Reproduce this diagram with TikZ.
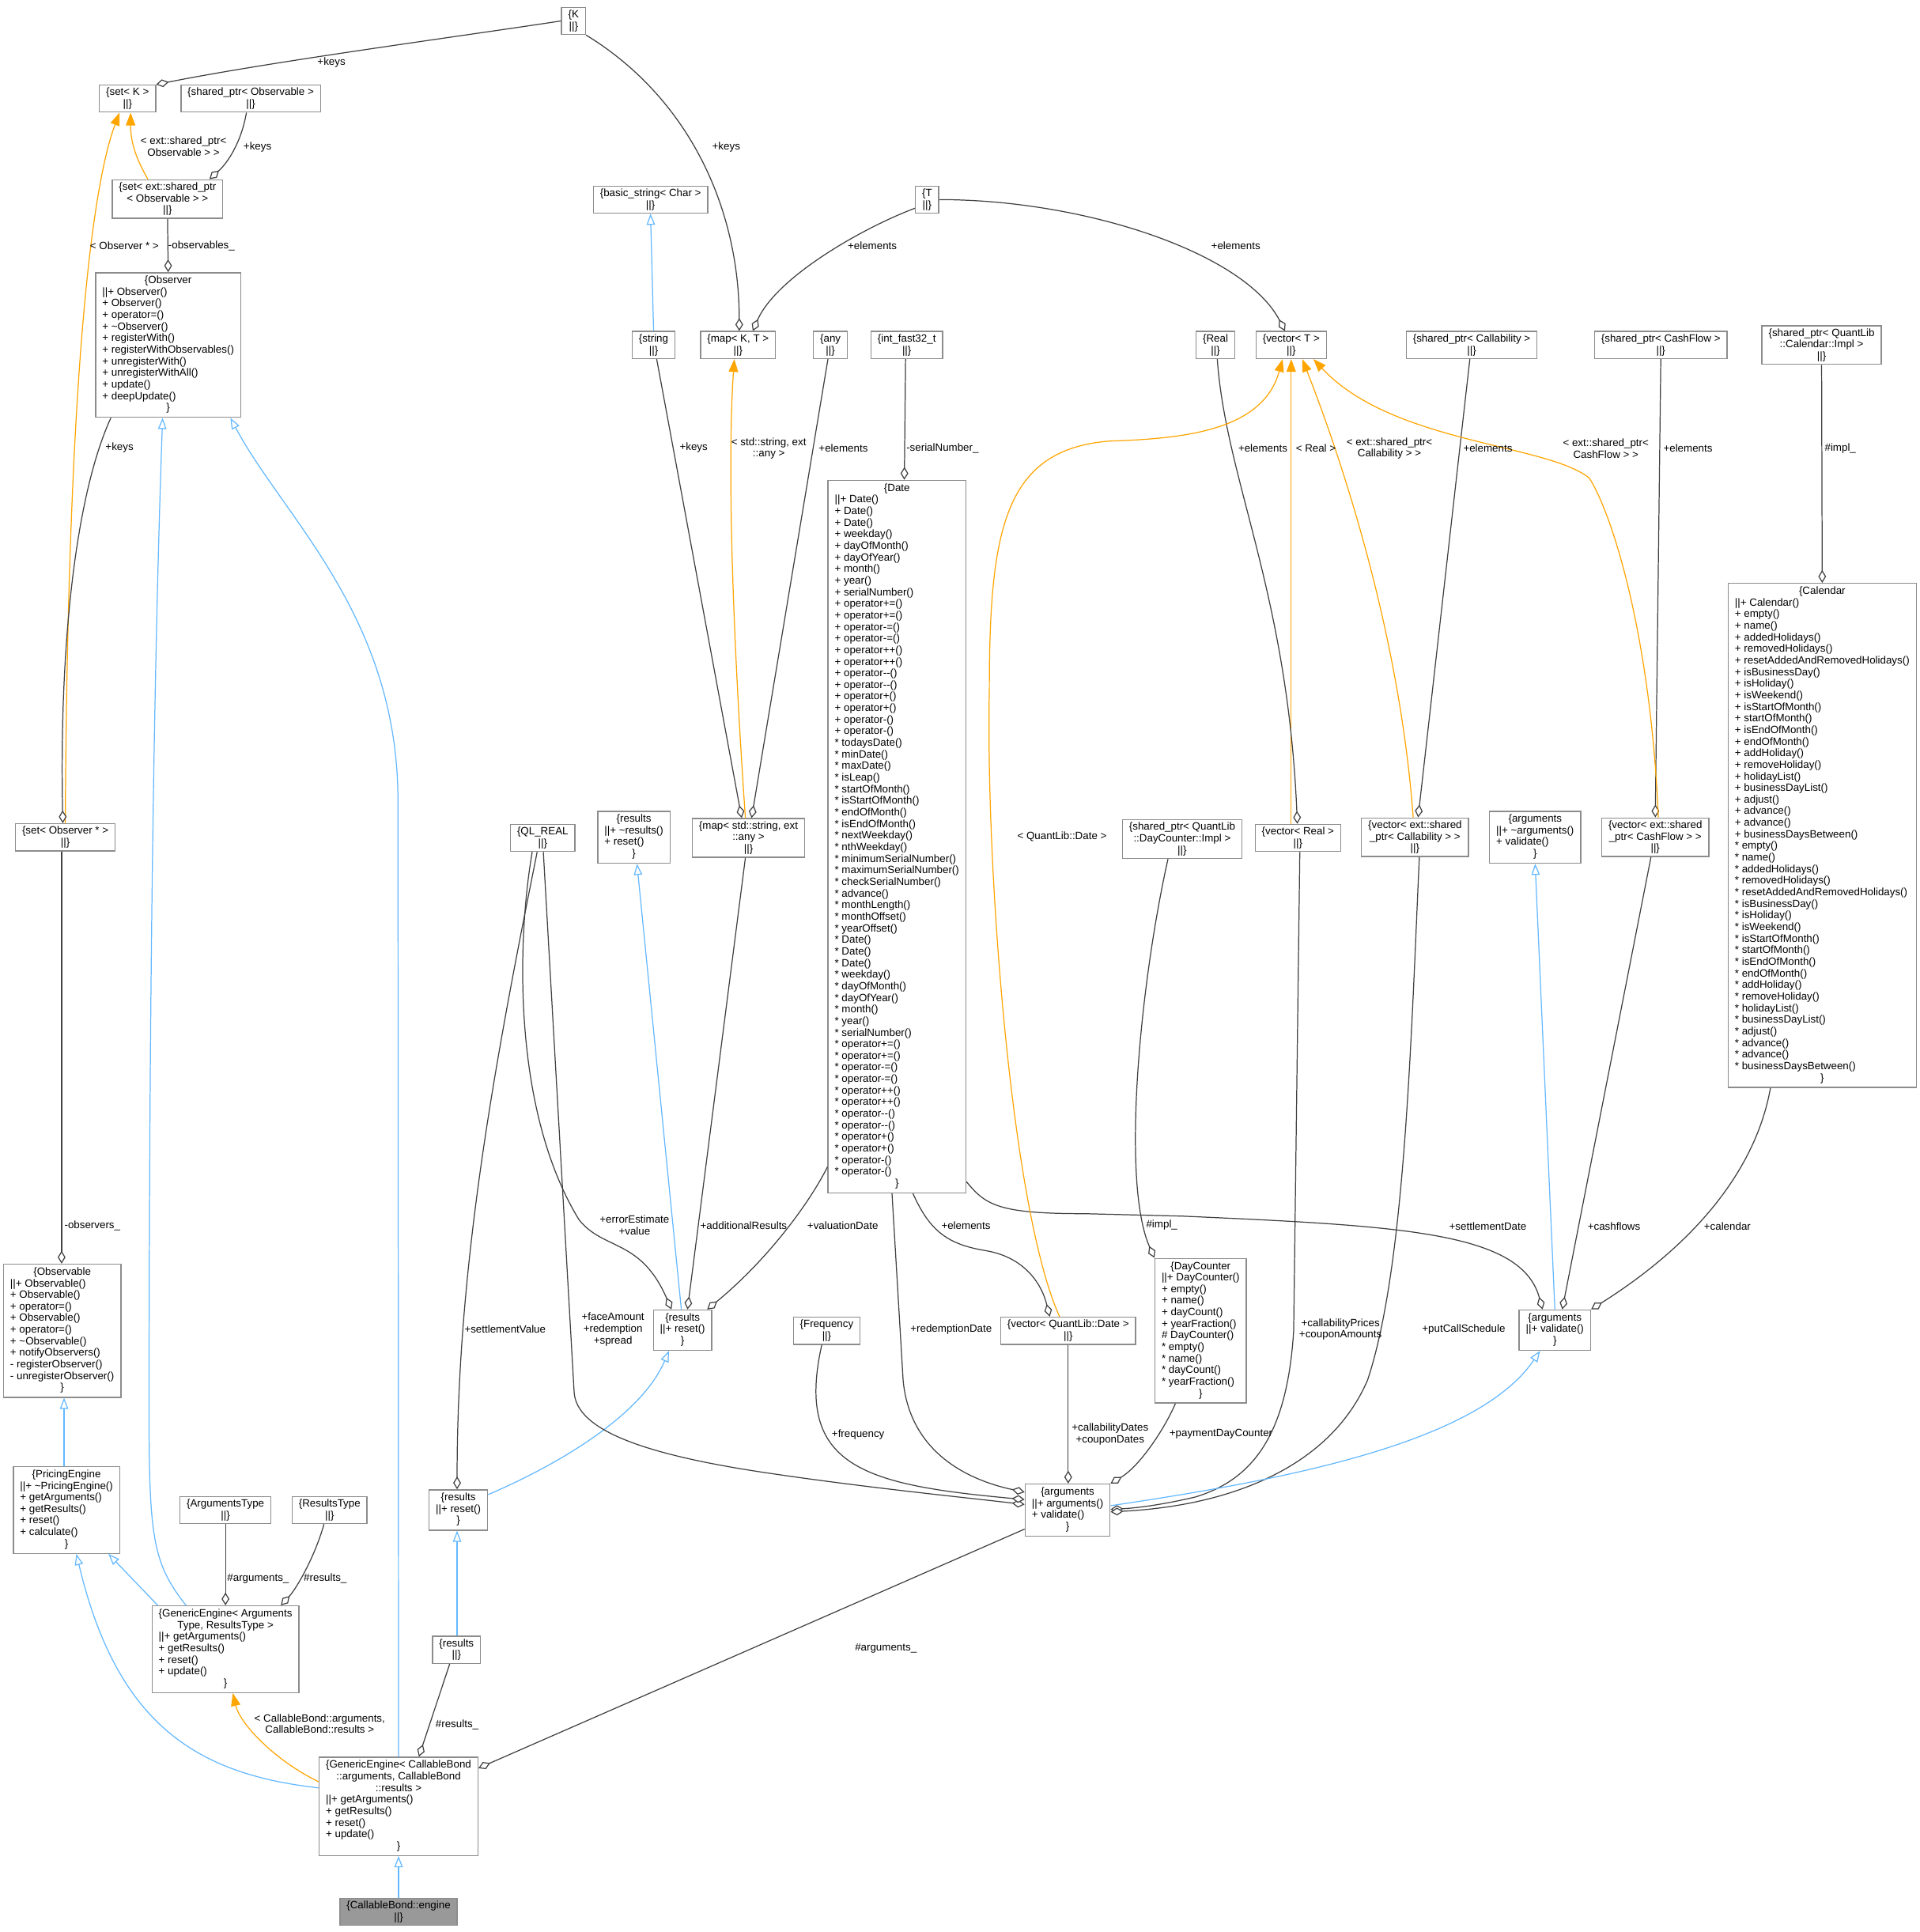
\documentclass[tikz,border=0pt]{standalone}
\usepackage{fontspec}
\setmainfont{Liberation Sans}
\usetikzlibrary{arrows.meta}
\definecolor{edgedark}{HTML}{404040}
\definecolor{nodeline}{HTML}{8C8C8C}
\definecolor{inhblue}{HTML}{63B8FF}
\definecolor{tplorange}{HTML}{FFA500}
\definecolor{engfill}{HTML}{999999}
\newcommand{\hd}[1]{\multicolumn{1}{@{}c@{}}{#1}}
\newcommand{\cls}[1]{\begin{tabular}{@{}l@{}}#1\end{tabular}}

\begin{document}
\begin{tikzpicture}[x=0.01558cm,y=-0.01558cm,
  font=\fontsize{3.8pt}{4.17pt}\selectfont,
  box/.style={draw=nodeline,line width=0.4pt,fill=white,inner xsep=2.4pt,inner ysep=1pt,align=center},
  lbl/.style={inner sep=0pt,align=center},
  agg/.style={draw=edgedark,line width=0.35pt,-{Diamond[fill=white,length=4.6pt,width=2.8pt]}},
  inh/.style={draw=inhblue,line width=0.35pt,-{Triangle[fill=white,length=4pt,width=3pt]}},
  tpl/.style={draw=tplorange,line width=0.35pt,-{Triangle[length=4.6pt,width=3.4pt]}}]
\fill[white] (0,0) rectangle (1558,1568);
\useasboundingbox (0,0) rectangle (1558,1568);

\node[box] (K) at (465.5,17) {\{K\\||\}};
\node[box] (setK) at (103.5,80) {\{set< K >\\||\}};
\node[box] (spObs) at (203.5,80) {\{shared\_ptr< Observable >\\||\}};
\node[box] (setSpObs) at (136,161.5) {\{set< ext::shared\_ptr\\< Observable > >\\||\}};
\node[box] (basicStr) at (528,162) {\{basic\_string< Char >\\||\}};
\node[box] (T) at (752.5,162) {\{T\\||\}};
\node[box] (Observer) at (136.5,280) {\cls{\hd{\{Observer}\\||+ Observer()\\+ Observer()\\+ operator=()\\+ \textasciitilde Observer()\\+ registerWith()\\+ registerWithObservables()\\+ unregisterWith()\\+ unregisterWithAll()\\+ update()\\+ deepUpdate()\\\hd{\}}}};

\node[box] (str) at (530.5,280) {\{string\\||\}};
\node[box] (mapKT) at (599,280) {\{map< K, T >\\||\}};
\node[box] (any) at (674,280) {\{any\\||\}};
\node[box] (intFast) at (736,280) {\{int\_fast32\_t\\||\}};
\node[box] (Real) at (986.5,280) {\{Real\\||\}};
\node[box] (vecT) at (1048,280) {\{vector< T >\\||\}};
\node[box] (spCallab) at (1194.5,280) {\{shared\_ptr< Callability >\\||\}};
\node[box] (spCash) at (1348,280) {\{shared\_ptr< CashFlow >\\||\}};
\node[box] (spCalImpl) at (1478.5,280) {\{shared\_ptr< QuantLib\\::Calendar::Impl >\\||\}};

\node[box] (Date) at (728,679) {\cls{\hd{\{Date}\\||+ Date()\\+ Date()\\+ Date()\\+ weekday()\\+ dayOfMonth()\\+ dayOfYear()\\+ month()\\+ year()\\+ serialNumber()\\+ operator+=()\\+ operator+=()\\+ operator-=()\\+ operator-=()\\+ operator++()\\+ operator++()\\+ operator-{}-()\\+ operator-{}-()\\+ operator+()\\+ operator+()\\+ operator-()\\+ operator-()\\{}* todaysDate()\\{}* minDate()\\{}* maxDate()\\{}* isLeap()\\{}* startOfMonth()\\{}* isStartOfMonth()\\{}* endOfMonth()\\{}* isEndOfMonth()\\{}* nextWeekday()\\{}* nthWeekday()\\{}* minimumSerialNumber()\\{}* maximumSerialNumber()\\{}* checkSerialNumber()\\{}* advance()\\{}* monthLength()\\{}* monthOffset()\\{}* yearOffset()\\{}* Date()\\{}* Date()\\{}* Date()\\{}* weekday()\\{}* dayOfMonth()\\{}* dayOfYear()\\{}* month()\\{}* year()\\{}* serialNumber()\\{}* operator+=()\\{}* operator+=()\\{}* operator-=()\\{}* operator-=()\\{}* operator++()\\{}* operator++()\\{}* operator-{}-()\\{}* operator-{}-()\\{}* operator+()\\{}* operator+()\\{}* operator-()\\{}* operator-()\\\hd{\}}}};

\node[box] (Calendar) at (1479,678) {\cls{\hd{\{Calendar}\\||+ Calendar()\\+ empty()\\+ name()\\+ addedHolidays()\\+ removedHolidays()\\+ resetAddedAndRemovedHolidays()\\+ isBusinessDay()\\+ isHoliday()\\+ isWeekend()\\+ isStartOfMonth()\\+ startOfMonth()\\+ isEndOfMonth()\\+ endOfMonth()\\+ addHoliday()\\+ removeHoliday()\\+ holidayList()\\+ businessDayList()\\+ adjust()\\+ advance()\\+ advance()\\+ businessDaysBetween()\\{}* empty()\\{}* name()\\{}* addedHolidays()\\{}* removedHolidays()\\{}* resetAddedAndRemovedHolidays()\\{}* isBusinessDay()\\{}* isHoliday()\\{}* isWeekend()\\{}* isStartOfMonth()\\{}* startOfMonth()\\{}* isEndOfMonth()\\{}* endOfMonth()\\{}* addHoliday()\\{}* removeHoliday()\\{}* holidayList()\\{}* businessDayList()\\{}* adjust()\\{}* advance()\\{}* advance()\\{}* businessDaysBetween()\\\hd{\}}}};

\node[box] (setObsPtr) at (53,679.5) {\{set< Observer * >\\||\}};
\node[box] (QLREAL) at (440.5,680) {\{QL\_REAL\\||\}};
\node[box] (resultsTop) at (514.5,679.5) {\cls{\hd{\{results}\\||+ \textasciitilde results()\\+ reset()\\\hd{\}}}};
\node[box] (mapStrAny) at (607.5,680) {\{map< std::string, ext\\::any >\\||\}};
\node[box] (spDCImpl) at (959.5,681) {\{shared\_ptr< QuantLib\\::DayCounter::Impl >\\||\}};
\node[box] (vecReal) at (1053.5,680) {\{vector< Real >\\||\}};
\node[box] (vecSpCallab) at (1148.5,679.5) {\{vector< ext::shared\\\_ptr< Callability > >\\||\}};
\node[box] (argsTop) at (1246,679.5) {\cls{\hd{\{arguments}\\||+ \textasciitilde arguments()\\+ validate()\\\hd{\}}}};
\node[box] (vecSpCash) at (1343.5,679.5) {\{vector< ext::shared\\\_ptr< CashFlow > >\\||\}};

\node[box] (Observable) at (50.5,1080) {\cls{\hd{\{Observable}\\||+ Observable()\\+ Observable()\\+ operator=()\\+ Observable()\\+ operator=()\\+ \textasciitilde Observable()\\+ notifyObservers()\\- registerObserver()\\- unregisterObserver()\\\hd{\}}}};
\node[box] (resultsMid) at (554,1079.5) {\cls{\hd{\{results}\\||+ reset()\\\hd{\}}}};
\node[box] (Frequency) at (671,1080) {\{Frequency\\||\}};
\node[box] (vecQLDate) at (867,1080) {\{vector< QuantLib::Date >\\||\}};
\node[box] (DayCounter) at (974.5,1080) {\cls{\hd{\{DayCounter}\\||+ DayCounter()\\+ empty()\\+ name()\\+ dayCount()\\+ yearFraction()\\\# DayCounter()\\{}* empty()\\{}* name()\\{}* dayCount()\\{}* yearFraction()\\\hd{\}}}};
\node[box] (argsRight) at (1262,1079.5) {\cls{\hd{\{arguments}\\||+ validate()\\\hd{\}}}};

\node[box] (PricingEngine) at (54,1225.5) {\cls{\hd{\{PricingEngine}\\||+ \textasciitilde PricingEngine()\\+ getArguments()\\+ getResults()\\+ reset()\\+ calculate()\\\hd{\}}}};
\node[box] (ArgsType) at (183,1225.5) {\{ArgumentsType\\||\}};
\node[box] (ResType) at (267.5,1225.5) {\{ResultsType\\||\}};
\node[box] (resultsLeft) at (372,1225.5) {\cls{\hd{\{results}\\||+ reset()\\\hd{\}}}};
\node[box] (argsMain) at (866.5,1225.5) {\cls{\hd{\{arguments}\\||+ arguments()\\+ validate()\\\hd{\}}}};

\node[box] (GenEngAT) at (183,1338.5) {\cls{\hd{\{GenericEngine< Arguments}\\\hd{Type, ResultsType >}\\||+ getArguments()\\+ getResults()\\+ reset()\\+ update()\\\hd{\}}}};
\node[box] (resultsSmall) at (370.5,1339) {\{results\\||\}};
\node[box] (GenEngCB) at (323.5,1466) {\cls{\hd{\{GenericEngine< CallableBond}\\\hd{::arguments, CallableBond}\\\hd{::results >}\\||+ getArguments()\\+ getResults()\\+ reset()\\+ update()\\\hd{\}}}};
\node[box,fill=engfill] (engine) at (323.5,1551.5) {\{CallableBond::engine\\||\}};

\draw[agg] (K.west) .. controls (370,30) and (220,50) .. (setK.north east);
\draw[agg] (K.south east) .. controls (560,80) and (600,170) .. (600,0 |- mapKT.north);
\draw[agg] (200,0 |- spObs.south) .. controls (196,115) and (185,132) .. (170,0 |- setSpObs.north);
\draw[tpl] (120,0 |- setSpObs.north) .. controls (110,128) and (106,115) .. (106,0 |- setK.south);
\draw[tpl] (setObsPtr.north) .. controls (55,300) and (75,150) .. (97,0 |- setK.south);
\draw[agg] (setSpObs.south) -- (Observer.north);
\draw[agg] (90,0 |- Observer.south) .. controls (62,400) and (48,520) .. (51,0 |- setObsPtr.north);
\draw[agg] (50,0 |- setObsPtr.south) -- (50,0 |- Observable.north);
\draw[inh] (52,0 |- PricingEngine.north) -- (52,0 |- Observable.south);
\draw[inh] (151,0 |- GenEngAT.north) .. controls (125,1270) and (121,1250) .. (121,1150) .. controls (121,700) and (128,450) .. (132,0 |- Observer.south);
\draw[inh] (GenEngCB.north) -- (323,650) .. controls (323,500) and (230,420) .. (187,0 |- Observer.south);
\draw[inh] (128,0 |- GenEngAT.north) -- (88,0 |- PricingEngine.south);
\draw[inh] (GenEngCB.west |- 0,1451) .. controls (160,1440) and (95,1400) .. (62,0 |- PricingEngine.south);
\draw[tpl] (GenEngCB.west |- 0,1446) .. controls (225,1430) and (195,1400) .. (189,0 |- GenEngAT.south);
\draw[inh] (engine.north) -- (GenEngCB.south);
\draw[agg] (ArgsType.south) -- (GenEngAT.north);
\draw[agg] (263,0 |- ResType.south) .. controls (255,1265) and (240,1290) .. (228,0 |- GenEngAT.north);
\draw[agg] (365,0 |- resultsSmall.south) -- (340,0 |- GenEngCB.north);
\draw[agg] (argsMain.west |- 0,1241) -- (GenEngCB.east |- 0,1435);
\draw[inh] (371,0 |- resultsSmall.north) -- (371,0 |- resultsLeft.south);
\draw[agg] (436,0 |- QLREAL.south) .. controls (400,870) and (371,1030) .. (371,0 |- resultsLeft.north);
\draw[inh] (resultsLeft.east |- 0,1213) .. controls (450,1190) and (520,1150) .. (543,0 |- resultsMid.south);
\draw[agg] (432,0 |- QLREAL.south) .. controls (420,760) and (415,900) .. (470,990) .. controls (490,1015) and (520,1005) .. (545,0 |- resultsMid.north);
\draw[inh] (553,0 |- resultsMid.north) -- (517,0 |- resultsTop.south);
\draw[agg] (605,0 |- mapStrAny.south) -- (558,0 |- resultsMid.north);
\draw[agg] (Date.west |- 0,947) .. controls (655,980) and (620,1025) .. (574,0 |- resultsMid.north);
\draw[agg] (441,0 |- QLREAL.south) -- (466,1130) .. controls (468,1160) and (520,1180) .. (620,1195) .. controls (700,1207) and (780,1215) .. (argsMain.west |- 0,1221);
\draw[agg] (667,0 |- Frequency.south) .. controls (645,1190) and (700,1205) .. (argsMain.west |- 0,1217);
\draw[agg] (724,0 |- Date.south) -- (733,1120) .. controls (738,1175) and (780,1200) .. (argsMain.west |- 0,1211);
\draw[agg] (741,0 |- Date.south) .. controls (755,1000) and (770,1010) .. (800,1015) .. controls (830,1020) and (845,1040) .. (852,0 |- vecQLDate.north);
\draw[agg] (vecQLDate.south) -- (vecQLDate.south |- argsMain.north);
\draw[agg] (954,0 |- DayCounter.south) .. controls (945,1160) and (925,1190) .. (argsMain.north east);
\draw[agg] (948,0 |- spDCImpl.south) .. controls (925,800) and (910,960) .. (DayCounter.north west);
\draw[agg] (1055,0 |- vecReal.south) -- (1050,1080) .. controls (1045,1160) and (1020,1200) .. (970,1215) .. controls (940,1222) and (920,1224) .. (argsMain.east |- 0,1225);
\draw[agg] (1152,0 |- vecSpCallab.south) .. controls (1145,850) and (1140,1030) .. (1110,1120) .. controls (1080,1190) and (1000,1222) .. (argsMain.east |- 0,1227);
\draw[inh] (argsMain.east |- 0,1222) .. controls (1050,1200) and (1200,1170) .. (1250,0 |- argsRight.south);
\draw[inh] (1262,0 |- argsRight.north) -- (1246,0 |- argsTop.south);
\draw[agg] (1340,0 |- vecSpCash.south) -- (1268,0 |- argsRight.north);
\draw[agg] (1437,0 |- Calendar.south) .. controls (1425,950) and (1375,1010) .. (argsRight.north east);
\draw[agg] (Date.east |- 0,959) .. controls (800,978) and (810,985) .. (880,985) -- (960,987) .. controls (1140,995) and (1235,1000) .. (1252,0 |- argsRight.north);
\draw[agg] (spCalImpl.south) -- (Calendar.north);
\draw[agg] (spCash.south) -- (vecSpCash.north);
\draw[agg] (1193,0 |- spCallab.south) -- (1151,0 |- vecSpCallab.north);
\draw[tpl] (1346,0 |- vecSpCash.north) .. controls (1340,520) and (1310,420) .. (1290,388) .. controls (1255,360) and (1130,360) .. (1066,0 |- vecT.south);
\draw[tpl] (1147,0 |- vecSpCallab.north) .. controls (1135,500) and (1080,350) .. (1057,0 |- vecT.south);
\draw[tpl] (1048,0 |- vecReal.north) -- (1048,0 |- vecT.south);
\draw[agg] (988,0 |- Real.south) .. controls (995,390) and (1045,480) .. (1053,0 |- vecReal.north);
\draw[tpl] (860,0 |- vecQLDate.north) .. controls (820,980) and (800,700) .. (803,560) .. controls (803,430) and (815,365) .. (900,358) .. controls (960,356) and (1025,350) .. (1041,0 |- vecT.south);
\draw[agg] (T.east) .. controls (880,162) and (1010,205) .. (1043,0 |- vecT.north);
\draw[agg] (T.west |- 0,169) .. controls (700,185) and (630,225) .. (611,0 |- mapKT.north);
\draw[inh] (str.north) -- (basicStr.south);
\draw[agg] (533,0 |- str.south) -- (602,0 |- mapStrAny.north);
\draw[tpl] (605,0 |- mapStrAny.north) .. controls (595,520) and (590,380) .. (596,0 |- mapKT.south);
\draw[agg] (672,0 |- any.south) -- (610,0 |- mapStrAny.north);
\draw[agg] (735,0 |- intFast.south) -- (734,0 |- Date.north);

\node[lbl] (lbKeysA) at (269,50.5) {+keys};
\node[lbl] (lbKeysB) at (589.4,119.2) {+keys};
\node[lbl] (lbKeysC) at (209,119.2) {+keys};
\node[lbl] (lbObsPtr) at (149,119) {< ext::shared\_ptr<\\Observable > >};
\node[lbl] (lbObsStar) at (101,199.4) {< Observer * >};
\node[lbl] (lbObservables) at (163.6,199.4) {-observables\_};
\node[lbl] (lbKeysD) at (97,363.5) {+keys};
\node[lbl] (lbObservers) at (75,995) {-observers\_};
\node[lbl] (lbElemA) at (708,199.6) {+elements};
\node[lbl] (lbElemB) at (1003,199.6) {+elements};
\node[lbl] (lbKeysE) at (563,363.6) {+keys};
\node[lbl] (lbStrAny) at (624,364) {< std::string, ext\\::any >};
\node[lbl] (lbElemC) at (684.5,363.6) {+elements};
\node[lbl] (lbSerial) at (765,363.6) {-serialNumber\_};
\node[lbl] (lbElemD) at (1025,364) {+elements};
\node[lbl] (lbReal) at (1068,364) {< Real >};
\node[lbl] (lbCallab) at (1127.7,364) {< ext::shared\_ptr<\\Callability > >};
\node[lbl] (lbElemE) at (1207.6,364) {+elements};
\node[lbl] (lbCash) at (1303.4,364) {< ext::shared\_ptr<\\CashFlow > >};
\node[lbl] (lbElemF) at (1370,364) {+elements};
\node[lbl] (lbImplA) at (1493.7,364) {\#impl\_};
\node[lbl] (lbQLDate) at (862,679) {< QuantLib::Date >};
\node[lbl] (lbErr) at (515,994.5) {+errorEstimate\\+value};
\node[lbl] (lbAddRes) at (603.6,994.5) {+additionalResults};
\node[lbl] (lbValDate) at (684,994.5) {+valuationDate};
\node[lbl] (lbElemG) at (784,994.5) {+elements};
\node[lbl] (lbImplB) at (943,994.5) {\#impl\_};
\node[lbl] (lbSettleDate) at (1207.6,995) {+settlementDate};
\node[lbl] (lbCashflows) at (1310,995) {+cashflows};
\node[lbl] (lbCalendar) at (1402,995) {+calendar};
\node[lbl] (lbSettleVal) at (410,1079) {+settlementValue};
\node[lbl] (lbFace) at (497.5,1079) {+faceAmount\\+redemption\\+spread};
\node[lbl] (lbRedDate) at (772,1079) {+redemptionDate};
\node[lbl] (lbPrices) at (1088,1079) {+callabilityPrices\\+couponAmounts};
\node[lbl] (lbPutCall) at (1188,1079) {+putCallSchedule};
\node[lbl] (lbFreq) at (696.5,1164) {+frequency};
\node[lbl] (lbDates) at (901,1164) {+callabilityDates\\+couponDates};
\node[lbl] (lbPayDC) at (991,1163.8) {+paymentDayCounter};
\node[lbl] (lbArgsA) at (209.5,1281) {\#arguments\_};
\node[lbl] (lbResA) at (264,1281) {\#results\_};
\node[lbl] (lbTplCB) at (259.5,1399) {< CallableBond::arguments,\\CallableBond::results >};
\node[lbl] (lbResB) at (371,1399.5) {\#results\_};
\node[lbl] (lbArgsB) at (719,1338) {\#arguments\_};
\end{tikzpicture}
\end{document}
